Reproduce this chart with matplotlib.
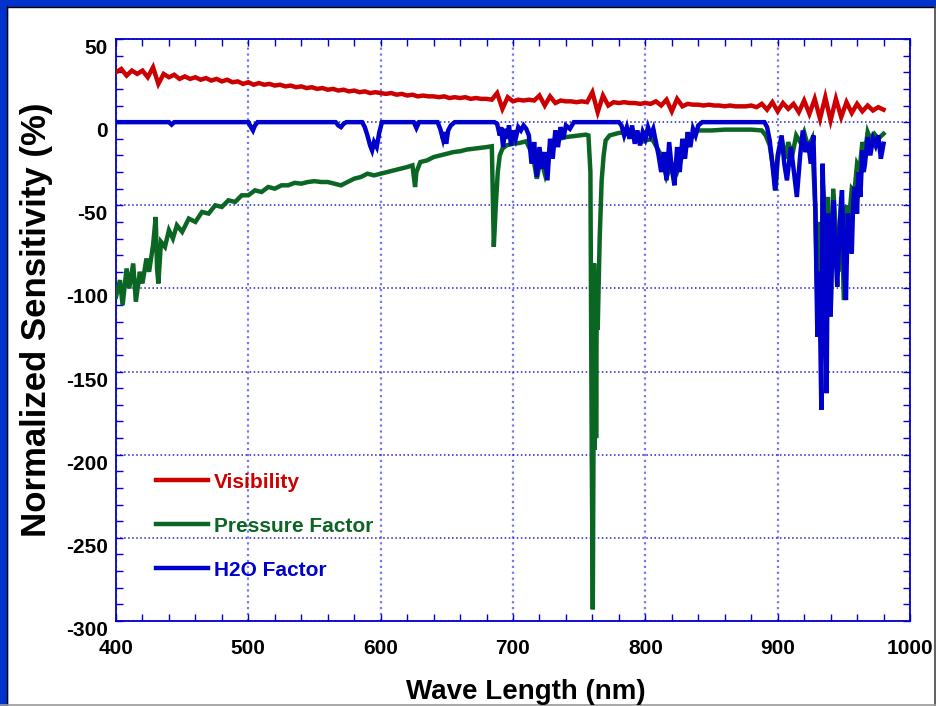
import numpy as np
import matplotlib
matplotlib.use("Agg")
import matplotlib.pyplot as plt
from matplotlib.ticker import MultipleLocator
from matplotlib.patches import Rectangle

########################################################################################################################
# Data
########################################################################################################################

# Visibility, sampled every 4 nm from 400 to 980 nm
vis_x = np.arange(400, 981, 4)
vis_y = [30, 32, 28, 31, 29, 31, 27, 33, 23, 29,
         27, 28.5, 26, 27.5, 26, 27, 25.5, 26.5, 25, 26,
         24.5, 25.5, 24, 24.5, 23, 24, 22.5, 23.5, 22.5, 23,
         22, 22.5, 21.5, 22, 21, 21.5, 20.5, 21, 20, 20.5,
         19.5, 20, 19, 19.5, 18.5, 19, 18, 18.5, 17.5, 18,
         17.5, 17, 17.5, 16.5, 17, 16, 16.5, 15.5, 16, 15.5,
         15.5, 15, 15.5, 14.5, 15, 14.5, 15, 14, 14.5, 14,
         14, 13.5, 17.5, 8, 15, 12.5, 13.5, 13, 13.5, 13,
         16, 10, 15.5, 11.5, 13, 12.5, 12.5, 12, 12.5, 12,
         18, 6, 16, 10, 12, 11.5, 12, 11.5, 11.5, 11,
         11.5, 11, 12.5, 10, 13.5, 6.5, 14, 9.5, 11, 10.5,
         10.5, 10, 10.5, 10, 10, 9.5, 10, 9.5, 9.5, 9.5,
         10, 9, 11, 7.5, 12, 6.5, 11.5, 8, 11, 6,
         13, 5, 14, 2, 15, 1, 14, 3, 12, 5.5,
         11, 6.5, 10, 7, 9, 7.5]

# Pressure factor
pres_x = [400, 403, 405, 408, 410, 413, 415, 418, 420, 423, 425, 428, 430, 431, 432, 434, 437,
          440, 443, 446, 450, 455, 460, 465, 470, 475, 480, 485, 490, 495, 500, 505, 510, 515,
          520, 525, 530, 535, 540, 545, 550, 555, 560, 565, 570, 575, 580, 585, 590, 595, 600,
          605, 610, 615, 620, 624, 626, 627, 630, 635, 640, 645, 650, 655, 660, 665, 670, 675,
          680, 684, 685.5, 687, 688.5, 690, 692, 695, 700, 705, 710, 715, 718, 721, 724, 728,
          735, 740, 745, 750, 755, 757, 758.5, 759.5, 760.3, 760.8, 761.3, 761.8, 762.3, 762.8,
          763.3, 764, 765.5, 767, 768.5, 770, 773, 780, 785, 790, 796, 805, 812, 816, 820, 824,
          830, 836, 840, 850, 860, 870, 880, 888, 891, 894, 897, 898.5, 900, 903, 906, 908, 911,
          914, 917, 920, 923, 926, 928.5, 930, 931.5, 933, 934, 936, 938, 940, 942, 944, 946,
          948, 950, 952, 954, 956, 958, 960, 962, 964, 966, 968, 970, 973, 976, 980]
pres_y = [-105, -95, -110, -88, -100, -85, -108, -90, -97, -82, -90, -74, -57, -88, -97, -72, -75,
          -65, -70, -62, -66, -58, -60, -54, -55, -50, -51, -47, -48, -44, -44, -41, -42, -39,
          -40, -38, -38, -36.5, -37, -36, -35.5, -36, -36, -37, -38, -36, -34, -33, -31, -32, -31,
          -30, -29, -28, -27, -26, -39, -30, -24, -23, -21, -20, -19, -18, -17.5, -16.5, -16, -15.5,
          -15, -14.5, -75, -50, -30, -20, -16, -14, -13, -12.5, -11.5, -20, -34, -22, -31, -15,
          -10, -9, -8.5, -8, -7.5, -8, -30, -200, -293, -200, -85, -197, -90, -190,
          -100, -125, -70, -35, -20, -11, -8, -6.5, -6, -8, -12, -10, -20, -33, -25, -30,
          -15, -8, -5, -5, -4.5, -4.5, -4.5, -5, -8, -14, -30, -41, -22, -10, -22, -12, -20,
          -8, -12, -6, -15, -10, -53, -110, -60, -140, -35, -60, -45, -117, -40, -65, -90,
          -45, -107, -50, -58, -40, -42, -25, -28, -12, -18, -6, -10, -7, -10, -7]

# H2O factor
h2o_x = [400, 440, 442, 444, 500, 502, 503.5, 505, 507, 566, 568, 570, 572, 574, 586, 588, 590,
         592, 593.5, 595, 597, 599, 601, 625, 627, 629, 643, 645, 647, 648, 649.5, 651, 653, 656,
         686, 688, 690, 691, 692.5, 694, 695.5, 697, 698.5, 700, 702, 704, 706, 708, 710, 712,
         714, 716, 718, 720, 722, 724, 726, 728, 730, 732, 734, 736, 738, 740, 743, 746, 780,
         782, 784, 786, 788, 790, 792, 794, 796, 798, 800, 802, 804, 806, 808, 810, 812, 814,
         816, 818, 820, 822, 824, 826, 828, 830, 832, 834, 836, 838, 840, 843, 890,
         892, 894, 896, 898, 900, 903, 905, 907, 910, 912, 914.5, 917, 919, 921, 923, 925, 927,
         928.5, 930, 931.5, 933, 934, 935.5, 937, 938, 940, 942, 943.5, 945, 947, 948.6, 950,
         951.6, 953, 954.5, 956, 957, 958, 960, 961, 962.5, 964, 965, 966, 968, 970, 972, 974,
         976, 978, 980]
h2o_y = [0, 0, -1.5, 0, 0, -3, -5, -2, 0, 0, -2, -3, -1, 0, 0, -3, -8,
         -14, -17, -12, -15, -6, 0, 0, -3.5, 0, 0, -4, -10, -6, -13, -5, -2, 0,
         0, -1, -8, -3, -15, -4, -10, -2, -14, -5, -10, -3, -5, -2, -4, -8,
         -25, -12, -33, -15, -28, -18, -35, -10, -22, -5, -15, -3, -10, -2, -4, 0, 0,
         -2, -8, -3, -10, -2, -13, -5, -14, -6, -10, -3, -8, -4, -12, -20, -30, -18,
         -35, -12, -28, -38, -15, -30, -10, -22, -6, -15, -4, -8, -2, 0, 0,
         -3, -11, -25, -41, -20, -8, -25, -35, -15, -28, -45, -20, -5, -18, -12, -25, -8,
         -53, -129, -90, -173, -25, -80, -163, -55, -117, -47, -75, -99, -60, -41, -85,
         -107, -55, -70, -79, -50, -39, -55, -30, -45, -17, -30, -25, -9, -20, -10, -14,
         -8, -22, -13]

labels = ["Visibility", "Pressure Factor", "H2O Factor"]
colors = ["#cc0000", "#0b6623", "#0000cc"]

x_ticks = [400, 500, 600, 700, 800, 900, 1000]
y_ticks = [-300, -250, -200, -150, -100, -50, 0, 50]


########################################################################################################################
# Plot
########################################################################################################################

def draw_frame(fig):
    """
    Window-like frame around the figure (blue top/left bands)
    """
    fig.patches.append(Rectangle((0, 1 - 6 / 706.), 1, 6 / 706., transform=fig.transFigure,
                                 color="#0033cc", zorder=0))
    fig.patches.append(Rectangle((0, 0), 7 / 937., 1, transform=fig.transFigure,
                                 color="#0033cc", zorder=0))
    fig.lines.append(plt.Line2D([7 / 937., 935.5 / 937.], [1 - 6.5 / 706., 1 - 6.5 / 706.],
                                transform=fig.transFigure, color="black", lw=1))
    fig.lines.append(plt.Line2D([7.5 / 937., 7.5 / 937.], [0, 1 - 6 / 706.],
                                transform=fig.transFigure, color="black", lw=1))
    fig.lines.append(plt.Line2D([935.5 / 937., 935.5 / 937.], [0, 1 - 6 / 706.],
                                transform=fig.transFigure, color="#444444", lw=1.2))
    fig.lines.append(plt.Line2D([0, 1], [0.8 / 706., 0.8 / 706.],
                                transform=fig.transFigure, color="#999999", lw=1.2))


def plot_sensitivity(file_name="out.png"):
    plt.rcParams['font.family'] = ['Liberation Sans', 'DejaVu Sans']
    plt.rcParams['axes.unicode_minus'] = False
    fig = plt.figure(figsize=(9.37, 7.06), dpi=100)
    draw_frame(fig)
    ax = fig.add_axes([116 / 937., 85 / 706., 794 / 937., 582 / 706.])

    ax.plot(pres_x, pres_y, '-', color=colors[1], lw=3.2, label=labels[1], solid_joinstyle='miter', zorder=3)
    ax.plot(h2o_x, h2o_y, '-', color=colors[2], lw=3.2, label=labels[2], solid_joinstyle='miter', zorder=4)
    ax.plot(vis_x, vis_y, '-', color=colors[0], lw=3.2, label=labels[0], solid_joinstyle='miter', zorder=3)

    ax.set_xlim(400, 1000)
    ax.set_ylim(-300, 50)
    ax.set_xticks(x_ticks)
    ax.set_yticks(y_ticks)
    ax.xaxis.set_minor_locator(MultipleLocator(20))
    ax.yaxis.set_minor_locator(MultipleLocator(10))
    ax.tick_params(which='both', direction='in', top=True, right=True, color="#0000cc",
                   length=5, width=1)
    ax.tick_params(axis='x', pad=13, labelsize=15)
    ax.tick_params(axis='y', pad=6, labelsize=15)
    for lab in ax.get_xticklabels() + ax.get_yticklabels():
        lab.set_fontweight('bold')
    for lab in ax.get_yticklabels():
        lab.set_va('top')
    for sp in ax.spines.values():
        sp.set_color("#0000cc")
        sp.set_linewidth(1.3)

    ax.grid(axis='x', color="#7777ee", linestyle=':', linewidth=1.6)
    ax.grid(axis='y', color="#2222cc", linestyle=':', linewidth=1.1)
    ax.set_axisbelow(True)

    # legend in the order Visibility / Pressure / H2O
    handles, labs = ax.get_legend_handles_labels()
    order = [2, 0, 1]
    ax.legend([handles[i] for i in order], [labs[i] for i in order], loc='upper left',
              bbox_to_anchor=(0.05, 0.255), frameon=False, borderpad=0, borderaxespad=0,
              handlelength=2.5, handletextpad=0.3, labelspacing=1.2,
              prop={'weight': 'bold', 'size': 15}, labelcolor='linecolor')

    fig.text(37 / 937., 1 - 320 / 706., "Normalized Sensitivity (%)", rotation=90, ha='center',
             va='center', fontsize=25, fontweight='bold')
    fig.text(526 / 937., 1 - 699 / 706., "Wave Length (nm)", ha='center', va='baseline',
             fontsize=20, fontweight='bold')

    fig.savefig(file_name, dpi=100)
    plt.close(fig)


if __name__ == "__main__":
    plot_sensitivity("out.png")
